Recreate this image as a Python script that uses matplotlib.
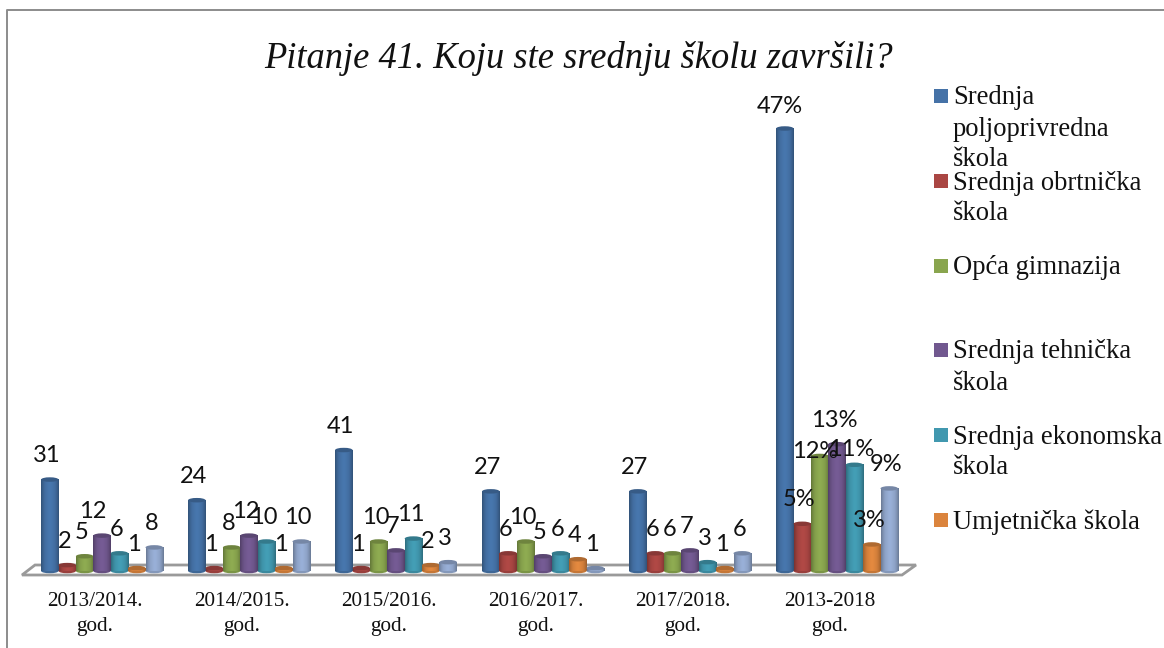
import numpy as np
import matplotlib
matplotlib.use('Agg')
import matplotlib.pyplot as plt
from matplotlib.colors import LinearSegmentedColormap, to_rgb
from matplotlib.patches import Ellipse, Polygon, Rectangle

# data
periods = ['2013/2014.\ngod.', '2014/2015.\ngod.', '2015/2016.\ngod.',
           '2016/2017.\ngod.', '2017/2018.\ngod.', '2013-2018\ngod.']
poljoprivredna = [31, 24, 41, 27, 27, 150]
obrtnicka = [2, 1, 1, 6, 6, 16]
gimnazija = [5, 8, 10, 10, 6, 39]
tehnicka = [12, 12, 7, 5, 7, 43]
ekonomska = [6, 10, 11, 6, 3, 36]
umjetnicka = [1, 1, 2, 4, 1, 9]
ostalo = [8, 10, 3, 1, 6, 28]
series = [poljoprivredna, obrtnicka, gimnazija, tehnicka, ekonomska, umjetnicka, ostalo]

# the last group is labelled in percent, the others in counts
total_labels = ['47%', '5%', '12%', '13%', '11%', '3%', '9%']
legend_names = ['Srednja\npoljoprivredna\nškola', 'Srednja obrtnička\nškola', 'Opća gimnazija',
                'Srednja tehnička\nškola', 'Srednja ekonomska\nškola', 'Umjetnička škola']
title = 'Pitanje 41. Koju ste srednju školu završili?'

colors = ['#4572A7', '#AA4643', '#89A54E', '#71588F', '#4198AF', '#DB843D', '#93A9CF']

W, H = 1164, 648
PX_PER_UNIT = 2.95
PX_PER_GROUP = 147.0
BAR = 17.4 / PX_PER_GROUP
CAP = 4.5 / PX_PER_UNIT

fig = plt.figure(figsize=(W / 100, H / 100), dpi=100, facecolor='white')

# pixel layer for frame, floor, title and legend
bg = fig.add_axes([0, 0, 1, 1])
bg.set_xlim(0, W)
bg.set_ylim(H, 0)
bg.axis('off')
bg.plot([7, 7, W], [H, 10, 10], color='#8c8c8c', lw=1.4)
bg.add_patch(Polygon([(22, 575), (35, 565), (916, 565), (902, 575)], closed=True,
                     facecolor='white', edgecolor='#9a9a9a', lw=2.0))
bg.text(579, 58, title, family='Liberation Serif', style='italic', size=26.3,
        ha='center', va='center', color='#111111')

legend_y = [96, 181, 266, 350, 435, 520]
for name, col, y in zip(legend_names, colors, legend_y):
    bg.add_patch(Rectangle((934, y - 7), 14, 14, facecolor=col, edgecolor='none'))
    for k, line in enumerate(name.split('\n')):
        bg.text(953, y + 2 + k * 31, line, family='Liberation Serif', size=19.2,
                ha='left', va='center', color='#111111')

# chart layer, group index on x and value on y
ax = fig.add_axes([0, 0, 1, 1])
ax.patch.set_alpha(0)
ax.axis('off')
xlim = (-102 / PX_PER_GROUP, (W - 102) / PX_PER_GROUP)
ylim = (-(H - 571) / PX_PER_UNIT, 571 / PX_PER_UNIT)

# extra label shifts in pixels (group, series): (dx, dy)
nudges = {(0, 3): (-6, 0), (5, 0): (-2, 2), (5, 2): (-1, 20), (5, 4): (0, 9)}

shade = np.array([0.72, 0.86, 0.96, 1.0, 1.04, 1.04, 1.0, 0.96, 0.86, 0.72])
for s, (values, col) in enumerate(zip(series, colors)):
    rgb = np.array(to_rgb(col))
    cmap = LinearSegmentedColormap.from_list('c', [np.clip(rgb * f, 0, 1) for f in shade])
    for g, v in enumerate(values):
        x = g + (s - 3) * BAR
        ax.add_patch(Ellipse((x, 0), BAR, CAP, facecolor=np.clip(rgb * 0.9, 0, 1),
                             edgecolor='none', zorder=3))
        ax.imshow(np.linspace(0, 1, 64)[None, :], cmap=cmap, aspect='auto',
                  extent=[x - BAR / 2, x + BAR / 2, 0, v], zorder=3, interpolation='bilinear')
        ax.add_patch(Ellipse((x, v), BAR, CAP, facecolor=np.clip(rgb * 0.8, 0, 1),
                             edgecolor='none', zorder=3))
        label = total_labels[s] if g == len(periods) - 1 else str(v)
        dx, dy = nudges.get((g, s), (0, 0))
        ax.text(x + (dx - 3) / PX_PER_GROUP, v + (24 - dy) / PX_PER_UNIT, label,
                family='Lato', size=17, ha='center', va='center', color='#111111', zorder=5)

ax.set_xlim(xlim)
ax.set_ylim(ylim)

for g, period in enumerate(periods):
    for k, line in enumerate(period.split('\n')):
        ax.text(g - 7 / PX_PER_GROUP, (571 - 602 - k * 25) / PX_PER_UNIT, line,
                family='Liberation Serif', size=15.2, ha='center', va='center', color='#111111')

fig.savefig('out.png', dpi=100)
